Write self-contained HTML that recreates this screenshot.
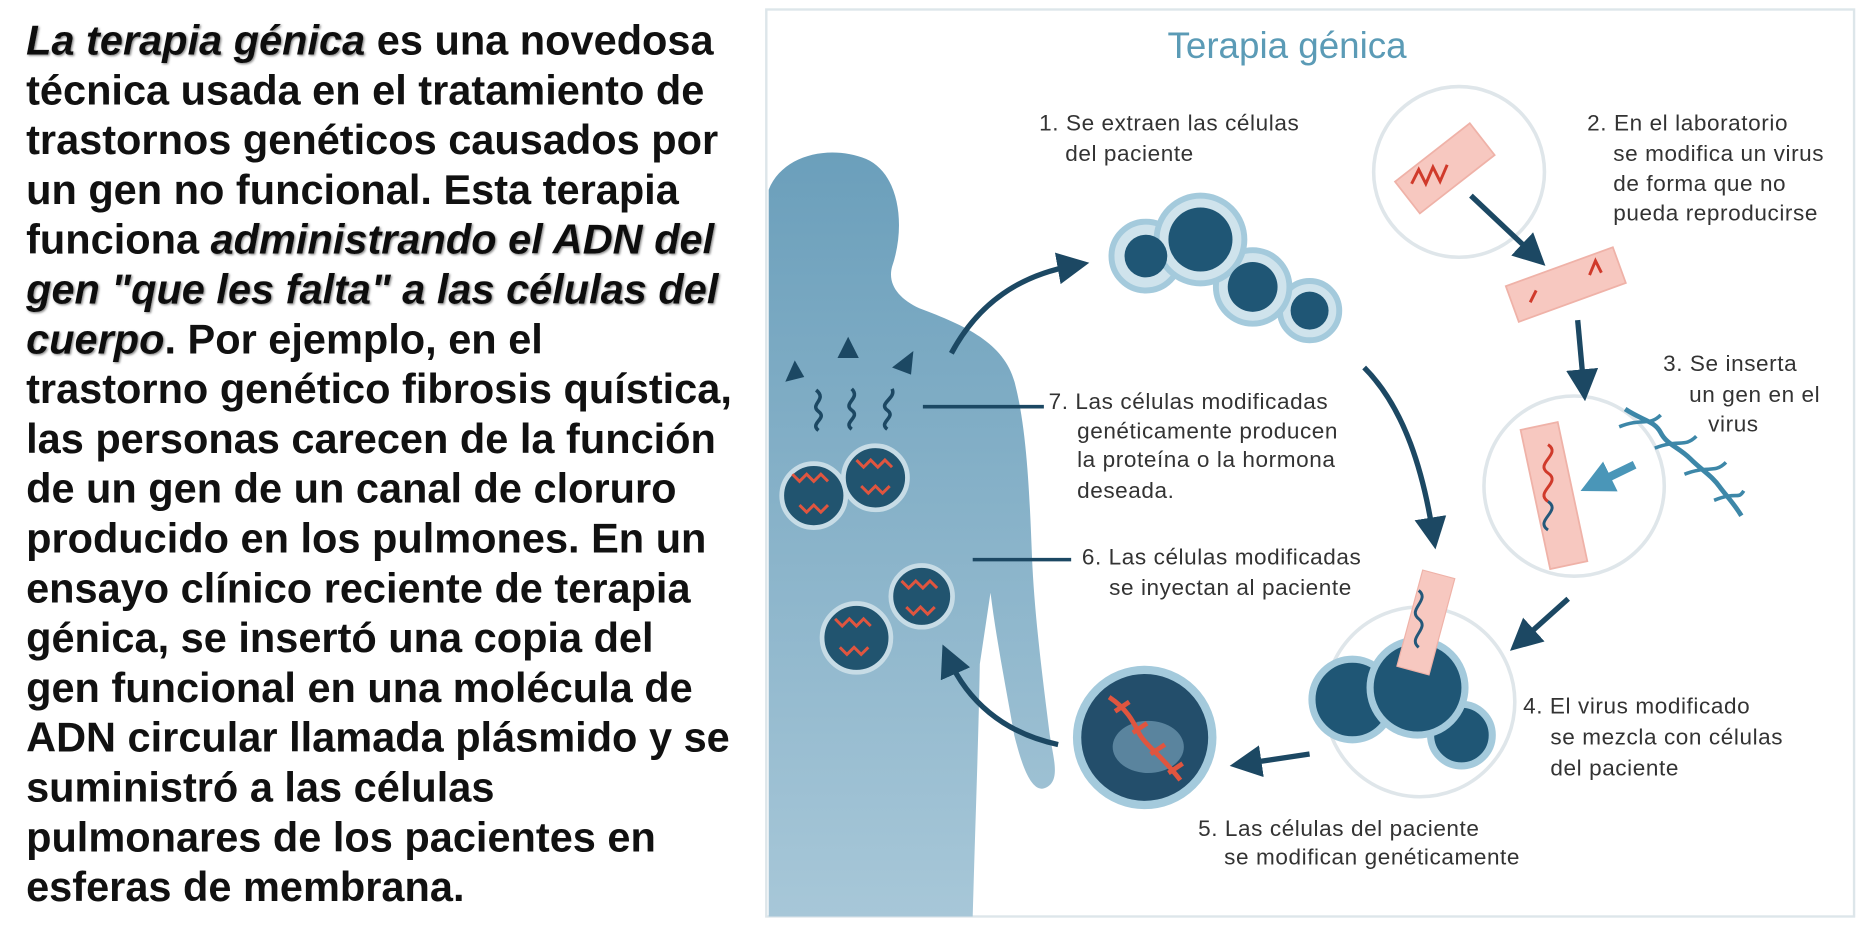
<!DOCTYPE html>
<html><head><meta charset="utf-8"><style>
html,body{margin:0;padding:0;background:#fff}
svg{display:block}
</style></head><body>
<svg width="1860" height="939" viewBox="0 0 1568 792" preserveAspectRatio="none" xmlns="http://www.w3.org/2000/svg">
<defs>
<linearGradient id="bg" x1="0" y1="0" x2="0" y2="1"><stop offset="0" stop-color="#6b9fbb"/><stop offset="1" stop-color="#a7c7d8"/></linearGradient>
<marker id="ah" markerWidth="6" markerHeight="6" refX="3" refY="3" orient="auto" markerUnits="strokeWidth"><path d="M0,0 L6,3 L0,6 Z" fill="#1c4863"/></marker>
<marker id="ah2" markerWidth="4" markerHeight="4" refX="2" refY="2" orient="auto" markerUnits="strokeWidth"><path d="M0,0 L4,2 L0,4 Z" fill="#4a96b8"/></marker>
<filter id="sh"><feDropShadow dx="1" dy="1" stdDeviation="0.8" flood-color="#888"/></filter>
</defs>
<g font-family="'Liberation Sans',Arial,sans-serif" font-weight="bold" font-size="35" fill="#111">
<text x="22" y="46"><tspan font-style="italic" filter="url(#sh)">La terapia génica</tspan> es una novedosa</text>
<text x="22" y="88">técnica usada en el tratamiento de</text>
<text x="22" y="130">trastornos genéticos causados por</text>
<text x="22" y="172">un gen no funcional. Esta terapia</text>
<text x="22" y="214">funciona <tspan font-style="italic" filter="url(#sh)">administrando el ADN del</tspan></text>
<text x="22" y="256" font-style="italic" filter="url(#sh)">gen "que les falta" a las células del</text>
<text x="22" y="298"><tspan font-style="italic" filter="url(#sh)">cuerpo</tspan>. Por ejemplo, en el</text>
<text x="22" y="340">trastorno genético fibrosis quística,</text>
<text x="22" y="382">las personas carecen de la función</text>
<text x="22" y="424">de un gen de un canal de cloruro</text>
<text x="22" y="466">producido en los pulmones. En un</text>
<text x="22" y="508">ensayo clínico reciente de terapia</text>
<text x="22" y="550">génica, se insertó una copia del</text>
<text x="22" y="592">gen funcional en una molécula de</text>
<text x="22" y="634">ADN circular llamada plásmido y se</text>
<text x="22" y="676">suministró a las células</text>
<text x="22" y="718">pulmonares de los pacientes en</text>
<text x="22" y="760">esferas de membrana.</text>
</g>
<rect x="646" y="8" width="917" height="765" fill="#fff" stroke="#dde6ea" stroke-width="2"/>
<text x="1085" y="49" text-anchor="middle" font-family="'Liberation Sans',sans-serif" font-size="31" fill="#5b9bb6">Terapia génica</text>
<!-- body -->
<path d="M648,160 C660,130 700,122 730,134 C758,146 764,190 752,225 C748,240 758,252 775,260 C815,275 848,290 856,325 C866,365 868,420 870,470 C872,520 880,580 885,620 C888,640 895,660 880,665 C868,668 860,640 855,620 C848,580 840,540 835,500 L826,560 C825,620 822,700 820,773 L648,773 Z" fill="url(#bg)"/>
<!-- body cells -->
<g stroke="#c7dce6" stroke-width="4" fill="#21546f">
<circle cx="686" cy="418" r="27"/><circle cx="738" cy="403" r="27"/><circle cx="722" cy="538" r="29"/><circle cx="777" cy="503" r="26"/>
</g>
<g stroke="#e0553f" stroke-width="2.5" fill="none">
<path d="M668,400 l6,6 l6,-6 l6,6 l6,-6 l6,6 M674,426 l6,6 l6,-6 l6,6 l6,-6"/>
<path d="M722,388 l6,6 l6,-6 l6,6 l6,-6 l6,6 M726,410 l6,6 l6,-6 l6,6 l6,-6"/>
<path d="M704,522 l6,6 l6,-6 l6,6 l6,-6 l6,6 M708,546 l6,6 l6,-6 l6,6 l6,-6"/>
<path d="M760,490 l6,6 l6,-6 l6,6 l6,-6 l6,6 M764,512 l6,6 l6,-6 l6,6 l6,-6"/>
</g>
<!-- wavy arrows -->
<g stroke="#1c4863" stroke-width="3" fill="none">
<path d="M690,363 c-8,-6 8,-10 0,-16 c-8,-6 8,-10 -2,-18"/><path d="M718,362 c-8,-6 8,-10 0,-16 c-8,-6 8,-10 0,-18"/><path d="M748,362 c-8,-6 8,-10 0,-16 c-8,-6 8,-10 4,-18"/>
</g>
<g fill="#1c4863"><path d="M662,322 l8,-18 l8,14 z"/><path d="M706,302 l9,-18 l9,18 z"/><path d="M752,310 l18,-14 l-2,20 z"/></g>
<!-- cells group 1 -->
<g stroke="#a4cadc" stroke-width="5" fill="#cfe3ec">
<circle cx="966" cy="216" r="29"/><circle cx="1104" cy="262" r="25"/><circle cx="1056" cy="242" r="31"/><circle cx="1012" cy="202" r="37"/>
</g>
<g fill="#1f5675"><circle cx="966" cy="216" r="18"/><circle cx="1104" cy="262" r="16"/><circle cx="1056" cy="242" r="21"/><circle cx="1012" cy="202" r="27"/></g>
<!-- circles -->
<g fill="#fff" stroke="#dfe6ea" stroke-width="3">
<circle cx="1230" cy="145" r="72"/><circle cx="1327" cy="410" r="76"/><circle cx="1197" cy="592" r="80"/>
</g>
<!-- rods -->
<g fill="#f7c8c0" stroke="#efb2a8" stroke-width="1.5">
<rect x="-40" y="-17" width="80" height="34" transform="translate(1218,142) rotate(-38)"/>
<rect x="-48" y="-16" width="96" height="32" transform="translate(1320,240) rotate(-20)"/>
<rect x="-16" y="-60" width="32" height="120" transform="translate(1310,418) rotate(-12)"/>
</g>
<g stroke="#d03a2b" stroke-width="2.5" fill="none">
<path d="M1190,155 l6,-12 l6,12 l6,-14 l6,12 l6,-14"/><path d="M1290,255 l5,-10 M1340,232 l5,-12 l5,10"/>
<path d="M1305,375 c12,8 -12,16 0,24 c12,8 -12,16 0,24"/>
</g>
<path d="M1305,423 c12,8 -12,16 0,24" stroke="#24587a" stroke-width="2.5" fill="none"/>
<!-- dna helix -->
<path d="M1370,345 c15,10 25,10 30,20 c5,10 15,12 25,22 c10,10 18,14 25,24 c6,8 12,14 18,24" stroke="#3d87a8" stroke-width="4" fill="none"/>
<path d="M1365,360 c20,-8 25,0 35,-10 M1395,378 c20,-8 25,0 35,-10 M1420,400 c20,-8 25,0 35,-10 M1445,422 c20,-8 20,0 25,-8" stroke="#3d87a8" stroke-width="3" fill="none"/>
<path d="M1378,392 L1345,408" stroke="#4a96b8" stroke-width="7" marker-end="url(#ah2)"/>
<!-- cell group 4 -->
<circle cx="1140" cy="590" r="34" fill="#1f5675" stroke="#a4cadc" stroke-width="6"/>
<circle cx="1232" cy="620" r="26" fill="#1f5675" stroke="#a4cadc" stroke-width="6"/>
<circle cx="1195" cy="580" r="40" fill="#1f5675" stroke="#a4cadc" stroke-width="6"/>
<rect x="-14" y="-42" width="28" height="84" fill="#f7c8c0" stroke="#efb2a8" transform="translate(1202,525) rotate(15)"/>
<path d="M1196,498 c10,8 -10,16 0,24 c10,8 -10,16 0,24" stroke="#24587a" stroke-width="2.5" fill="none"/>
<!-- cell 5 -->
<circle cx="965" cy="622" r="57" fill="#234e6b" stroke="#a4cadc" stroke-width="7"/>
<ellipse cx="968" cy="630" rx="30" ry="22" fill="#7fa9c0" opacity="0.6"/>
<path d="M935,588 c15,10 20,20 25,30 c5,10 20,20 35,40 M940,600 l12,-8 M955,618 l12,-8 M970,636 l12,-8 M985,652 l12,-8" stroke="#e0553f" stroke-width="4" fill="none"/>
<!-- arrows -->
<g stroke="#1c4863" stroke-width="4.5" fill="none" marker-end="url(#ah)">
<path d="M802,298 C825,255 860,232 905,224"/>
<path d="M1150,310 C1185,345 1200,400 1208,450"/>
<path d="M1240,165 L1293,215"/>
<path d="M1330,270 L1335,325"/>
<path d="M1322,505 L1283,540"/>
<path d="M1104,636 L1050,644"/>
<path d="M892,628 C845,618 815,590 800,556"/>
</g>
<g stroke="#1c4863" stroke-width="3"><path d="M778,343 H880"/><path d="M820,472 H903"/></g>
<g font-family="'Liberation Sans',sans-serif" font-size="19" fill="#333" letter-spacing="0.5">
<text x="876" y="110">1. Se extraen las células</text><text x="898" y="136">del paciente</text>
<text x="1338" y="110">2. En el laboratorio</text><text x="1360" y="136">se modifica un virus</text><text x="1360" y="161">de forma que no</text><text x="1360" y="186">pueda reproducirse</text>
<text x="1402" y="313">3. Se inserta</text><text x="1424" y="339">un gen en el</text><text x="1440" y="364">virus</text>
<text x="884" y="345">7. Las células modificadas</text><text x="908" y="370">genéticamente producen</text><text x="908" y="394">la proteína o la hormona</text><text x="908" y="420">deseada.</text>
<text x="912" y="476">6. Las células modificadas</text><text x="935" y="502">se inyectan al paciente</text>
<text x="1284" y="602">4. El virus modificado</text><text x="1307" y="628">se mezcla con células</text><text x="1307" y="654">del paciente</text>
<text x="1010" y="705">5. Las células del paciente</text><text x="1032" y="729">se modifican genéticamente</text>
</g>
</svg>
</body></html>
